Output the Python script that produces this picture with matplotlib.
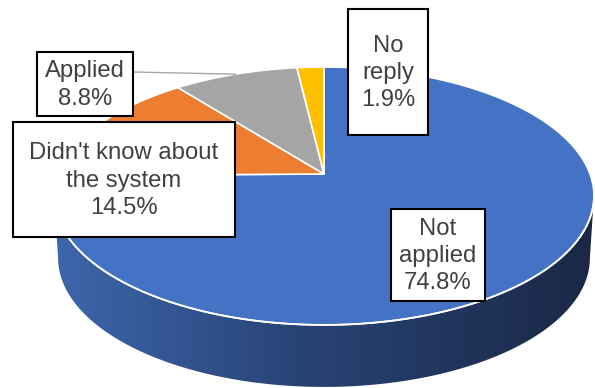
import numpy as np
import matplotlib
matplotlib.use("Agg")
import matplotlib.pyplot as plt
from matplotlib.patches import Polygon, Rectangle

# Survey answers
categories = ["Not applied", "Didn't know about the system", "Applied", "No reply"]
values = [74.8, 14.5, 8.8, 1.9]
label_names = ["Not\napplied", "Didn't know about\nthe system", "Applied", "No\nreply"]
colors = ["#4472C4", "#ED7D31", "#A5A5A5", "#FFC000"]

W, H = 595, 388
fig = plt.figure(figsize=(W / 100, H / 100), dpi=100)
ax = fig.add_axes([0, 0, 1, 1])
ax.set_xlim(0, W)
ax.set_ylim(H, 0)
ax.axis("off")

# Tilted disc seen in perspective
CX, CY = 324, 174
A, B, E = 266, 125.2, 0.1705
DEPTH = 62
BOTTOM_SCALE = 0.985


def project(theta_deg, drop=0.0, scale=1.0):
    t = np.radians(theta_deg)
    u, v = np.cos(t), np.sin(t)
    s = 1 + E * v
    return np.column_stack([CX + scale * A * u / s, CY - B * v / s + drop])


total = sum(values)
cum = np.concatenate([[0], np.cumsum(values)])
starts = 90 - 360 * cum[:-1] / total
ends = 90 - 360 * cum[1:] / total

# Side wall (front half of the rim)
tan = np.degrees(np.arcsin(E))
th = np.linspace(-tan, -180 + tan, 300)
top_rim = project(th)
bot_rim = project(th, DEPTH, BOTTOM_SCALE)
wall = Polygon(np.vstack([top_rim, bot_rim[::-1]]), closed=True,
               facecolor="none", edgecolor="none")
ax.add_patch(wall)
xs = np.linspace(0, 1, 256)
c_left = np.array([62, 102, 172]) / 255
c_mid = np.array([40, 68, 118]) / 255
c_right = np.array([26, 40, 70]) / 255
grad = np.where(xs[:, None] < 0.45,
                c_left + (c_mid - c_left) * (xs[:, None] / 0.45),
                c_mid + (c_right - c_mid) * ((xs[:, None] - 0.45) / 0.55))
half_w = A / np.sqrt(1 - E ** 2)
img = ax.imshow(grad[None, :, :], extent=[CX - half_w, CX + half_w, H, 0],
                aspect="auto", interpolation="bilinear", zorder=1)
img.set_clip_path(wall)

# Top face slices
for s0, s1, col in zip(starts, ends, colors):
    arc = project(np.linspace(s0, s1, 200))
    pts = np.vstack([[CX, CY], arc])
    ax.add_patch(Polygon(pts, closed=True, facecolor=col, edgecolor="white",
                         linewidth=1.2, joinstyle="miter", zorder=2))
ax.plot(top_rim[:, 0], top_rim[:, 1], color="white", lw=1.3, zorder=3)

# Data labels
text_color = "#404040"
boxes = [(391, 209, 485, 301), (13, 122, 235, 237), (37, 52, 133, 116),
         (348, 9, 428, 135)]
for name, val, (bx0, by0, bx1, by1) in zip(label_names, values, boxes):
    ax.add_patch(Rectangle((bx0, by0), bx1 - bx0, by1 - by0, facecolor="white",
                           edgecolor="black", linewidth=1.5, zorder=5))
    ax.text((bx0 + bx1) / 2, (by0 + by1) / 2 + 1, f"{name}\n{val:.1f}%",
            ha="center", va="center", multialignment="center",
            fontsize=17.2, family="Liberation Sans", color=text_color,
            linespacing=1.3, zorder=6)

# Leader line for the "Applied" label
mid = project((starts[2] + ends[2]) / 2)[0]
ax.plot([boxes[2][2], mid[0]], [72, mid[1]], color="#A6A6A6", lw=1.0, zorder=4)

fig.savefig("out.png", dpi=100)
